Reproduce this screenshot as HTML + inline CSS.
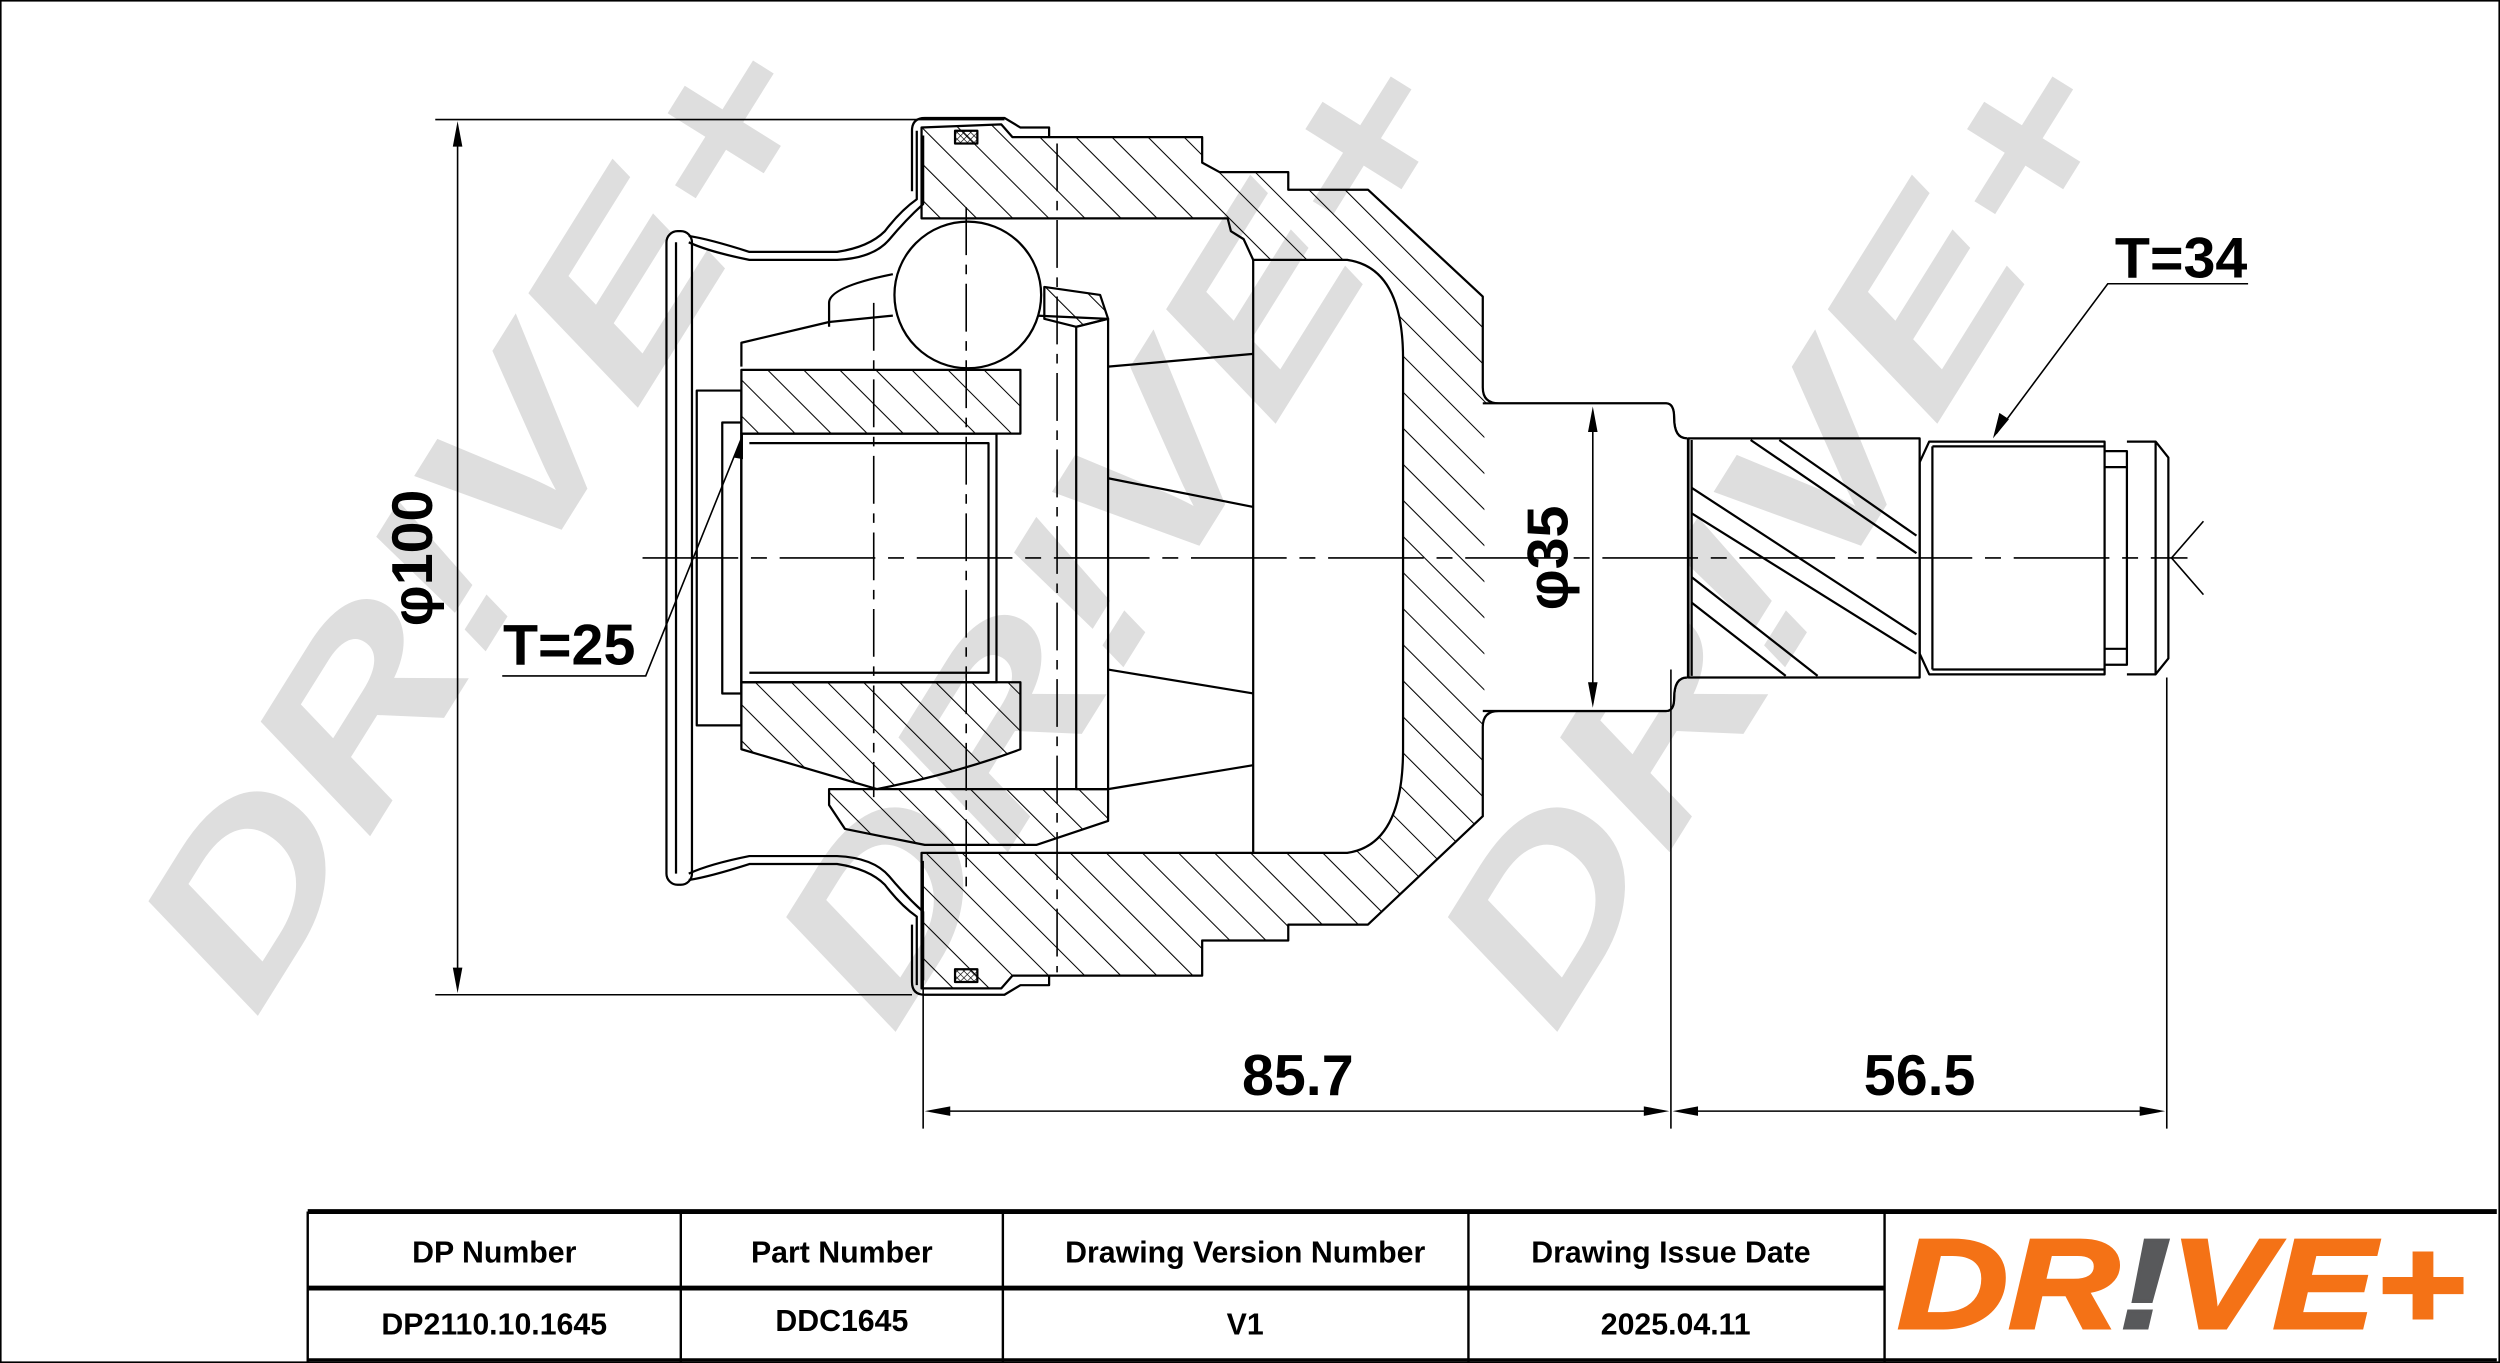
<!DOCTYPE html>
<html><head><meta charset="utf-8"><style>
html,body{margin:0;padding:0;background:#fff;}
svg{display:block;}
</style></head><body>
<svg width="2500" height="1363" viewBox="0 0 1568 855" preserveAspectRatio="none" xmlns="http://www.w3.org/2000/svg">
<defs>
<pattern id="h" patternUnits="userSpaceOnUse" width="16" height="16" patternTransform="rotate(-45)">
<line x1="0" y1="0" x2="0" y2="16" stroke="#000" stroke-width="1.3"/>
</pattern>
<pattern id="x" patternUnits="userSpaceOnUse" width="3" height="3" patternTransform="rotate(45)">
<line x1="0" y1="0" x2="0" y2="3" stroke="#000" stroke-width="0.8"/>
<line x1="0" y1="0" x2="3" y2="0" stroke="#000" stroke-width="0.8"/>
</pattern>
</defs>
<rect x="0.5" y="0.5" width="1567" height="854" fill="#fff" stroke="#000" stroke-width="1"/>

<!-- watermarks -->
<g font-family="Liberation Sans, sans-serif" font-weight="bold" font-style="italic" fill="#dedede">
<text transform="translate(160,640) rotate(-58)" font-size="140" textLength="680" lengthAdjust="spacingAndGlyphs">DR!VE+</text>
<text transform="translate(560,650) rotate(-58)" font-size="140" textLength="680" lengthAdjust="spacingAndGlyphs">DR!VE+</text>
<text transform="translate(975,650) rotate(-58)" font-size="140" textLength="680" lengthAdjust="spacingAndGlyphs">DR!VE+</text>
</g>

<g fill="none" stroke="#000" stroke-width="1.4" stroke-linejoin="round">
<!-- housing -->
<path fill="url(#h)" d="M578,137 L578,80 L628,78 L635,86 L754,86 L754,102 L765,108 L808,108 L808,119 L858,119 L930,186 L930,243 Q930,253 940,253 L1045,253 Q1050,253 1050,262 Q1050,275 1058,275 L1058,425 Q1050,425 1050,438 Q1050,446 1045,446 L940,446 Q930,446 930,456 L930,512 L858,580 L808,580 L808,590 L754,590 L754,612 L635,612 L628,620 L578,620 L578,535 L845,535 Q880,530 880,470 L880,225 Q880,168 845,163 L786,163 L780,150 L772,145 L770,137 Z"/>
<path fill="#fff" d="M931,253 L1045,253 Q1050,253 1050,262 Q1050,275 1058,275 L1058,425 Q1050,425 1050,438 Q1050,446 1045,446 L931,446 Z" stroke="none"/>
<path d="M930,253 L1045,253 Q1050,253 1050,262 Q1050,275 1058,275 M1058,425 Q1050,425 1050,438 Q1050,446 1045,446 L930,446"/>
<!-- spline -->
<rect x="1059" y="275" width="145" height="150"/>
<path d="M1061,276 L1061,424"/>
<path d="M1098,276 L1202,347 M1116,276 L1202,336 M1061,306 L1202,398 M1061,322 L1202,410 M1061,362 L1140,424 M1061,378 L1120,424"/>
<!-- thread -->
<path d="M1204,290 L1210,277 L1320,277 L1320,423 L1210,423 L1204,410 Z"/>
<path d="M1212,280 L1320,280 M1212,420 L1320,420 M1212,280 L1212,420"/>
<path d="M1320,283 L1334,283 L1334,417 L1320,417 M1320,293 L1334,293 M1320,407 L1334,407"/>
<path d="M1334,277 L1352,277 L1360,287 L1360,413 L1352,423 L1334,423 M1352,277 L1352,423"/>
<path d="M786,163 L786,535"/>
<!-- seals -->
<rect x="599" y="82" width="14" height="8" fill="url(#x)"/>
<rect x="599" y="608" width="14" height="8" fill="url(#x)"/>
<path d="M572,82 Q572,74 580,74 L630,74 L640,80 L658,80 L658,86 M572,82 L572,120 M572,616 Q572,624 580,624 L630,624 L640,618 L658,618 L658,612 M572,616 L572,580"/>
<!-- boot -->
<path d="M575,82 L575,125 Q565,132 555,145 Q545,155 525,158 L470,158 Q445,150 432,148"/>
<path d="M579,85 L579,128 Q568,138 558,150 Q548,162 525,163 L470,163 Q445,158 432,152"/>
<path d="M575,618 L575,575 Q565,568 555,555 Q545,545 525,542 L470,542 Q445,550 432,552"/>
<path d="M579,615 L579,572 Q568,562 558,550 Q548,538 525,537 L470,537 Q445,542 432,548"/>
<rect x="418" y="145" width="16" height="410" rx="7"/>
<path d="M424,152 L424,548"/>
<!-- spider hub -->
<path d="M465,230 L465,215 L520,202 L560,198 M650,198 L695,200"/>
<path fill="url(#h)" d="M465,232 L640,232 L640,272 L465,272 Z"/>
<path fill="url(#h)" d="M465,428 L640,428 L640,470 Q600,485 550,495 L465,470 Z"/>
<rect x="465" y="272" width="160" height="156"/>
<path d="M470,278 L620,278 L620,422 L470,422"/>
<rect x="437" y="245" width="28" height="210"/>
<rect x="453" y="265" width="12" height="170"/>
<!-- bearing ring -->
<path fill="url(#h)" d="M655,180 L690,185 L695,200 L675,205 L655,200 Z"/>
<path fill="url(#h)" d="M520,495 L695,495 L695,515 L650,530 L580,530 L530,520 L520,505 Z"/>
<path d="M520,190 Q520,180 560,172 M520,190 L520,205"/>
<path d="M675,205 L695,200 L695,495 L675,495 Z"/>
<circle cx="607" cy="185" r="46" fill="#fff"/>
<path d="M695,230 L786,222 M695,300 L786,318 M695,420 L786,435 M695,495 L786,480"/>
</g>

<g stroke="#000" stroke-width="1" fill="none">
<path d="M403,350 L1372,350" stroke-dasharray="60,8,10,8"/>
<path d="M548,190 L548,500 M606,130 L606,560 M663,90 L663,610" stroke-dasharray="30,6,6,6"/>
<path d="M1362,350 L1382,327 M1362,350 L1382,373"/>
</g>

<g stroke="#000" stroke-width="1" fill="none">
<path d="M273,75 L630,75 M273,624 L572,624"/>
<path d="M287,80 L287,619"/>
<path d="M579,540 L579,708 M1048,420 L1048,708 M1359,425 L1359,708"/>
<path d="M584,697 L1043,697 M1053,697 L1354,697"/>
<path d="M999,258 L999,441"/>
<path d="M1322,178 L1410,178 L1322,178 L1252,272"/>
<path d="M315,424 L405,424 L465,275"/>
</g>
<g fill="#000">
<path d="M287,76 L284,92 L290,92 Z M287,623 L284,607 L290,607 Z"/>
<path d="M580,697 L596,694 L596,700 Z M1047,697 L1031,694 L1031,700 Z M1049,697 L1065,694 L1065,700 Z M1358,697 L1342,694 L1342,700 Z"/>
<path d="M999,255 L996,271 L1002,271 Z M999,444 L996,428 L1002,428 Z"/>
<path d="M1250,275 L1254,259 L1260,263 Z M466,272 L460,287 L466,288 Z"/>
</g>
<g font-family="Liberation Sans, sans-serif" font-weight="bold" fill="#000" font-size="36">
<text transform="translate(271,350) rotate(-90)" text-anchor="middle">φ100</text>
<text transform="translate(983,350) rotate(-90)" text-anchor="middle">φ35</text>
<text x="814" y="687" text-anchor="middle">85.7</text>
<text x="1204" y="687" text-anchor="middle">56.5</text>
<text x="1368" y="174" text-anchor="middle">T=34</text>
<text x="357" y="417" text-anchor="middle">T=25</text>
</g>

<g stroke="#000" fill="none">
<path d="M193,760 L1566,760" stroke-width="3"/>
<path d="M193,808 L1182,808" stroke-width="3"/>
<path d="M193,853 L1566,853" stroke-width="2"/>
<path d="M193,760 L193,855 M427,760 L427,855 M629,760 L629,855 M921,760 L921,855 M1182,760 L1182,855" stroke-width="1.5"/>
</g>
<g font-family="Liberation Sans, sans-serif" font-weight="bold" fill="#000" font-size="19" text-anchor="middle">
<text x="310" y="792">DP Number</text>
<text x="528" y="792">Part Number</text>
<text x="781" y="792">Drawing Version Number</text>
<text x="1048" y="792">Drawing Issue Date</text>
<text x="310" y="837">DP2110.10.1645</text>
<text x="528" y="835">DDC1645</text>
<text x="781" y="837">V1</text>
<text x="1051" y="837">2025.04.11</text>
</g>
<g font-family="Liberation Sans, sans-serif" font-weight="bold" font-style="italic" font-size="80">
<text x="1190" y="833" textLength="356" lengthAdjust="spacingAndGlyphs" stroke-width="2" ><tspan fill="#f47216" stroke="#f47216">DR</tspan><tspan fill="#58595b" stroke="#58595b">!</tspan><tspan fill="#f47216" stroke="#f47216">VE+</tspan></text>
</g>
</svg>
</body></html>
